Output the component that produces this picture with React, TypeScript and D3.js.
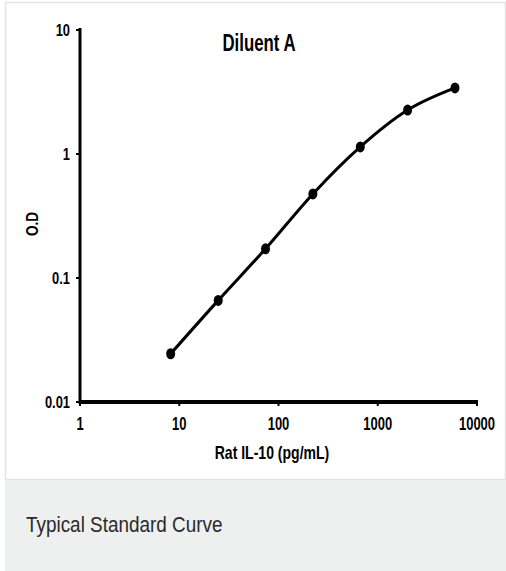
import React from "react";
import * as d3 from "d3";

const concentrations = [8.2, 24.7, 74, 222, 667, 2000, 6000];
const odValues = [0.0245, 0.066, 0.172, 0.476, 1.14, 2.26, 3.41];
const xTicks = [1, 10, 100, 1000, 10000];
const yTicks = [0.01, 0.1, 1, 10];
const yTickLabels = ["0.01", "0.1", "1", "10"];
const chartTitle = "Diluent A";
const xTitle = "Rat IL-10 (pg/mL)";
const yTitle = "O.D";
const caption = "Typical Standard Curve";

const W = 506;
const H = 571;
const font = "'Liberation Sans', Arial, sans-serif";

function SText(props: {
  x: number;
  y: number;
  sx: number;
  size: number;
  anchor?: string;
  weight?: string;
  fill?: string;
  rotate?: number;
  children: React.ReactNode;
}) {
  const { x, y, sx, size, anchor = "start", weight = "bold", fill = "#000", rotate = 0, children } = props;
  return (
    <text
      transform={`translate(${x},${y}) rotate(${rotate}) scale(${sx},1)`}
      textAnchor={anchor}
      fontFamily={font}
      fontWeight={weight}
      fontSize={size}
      fill={fill}
    >
      {children}
    </text>
  );
}

export default function App() {
  const x = d3.scaleLog().domain([1, 10000]).range([80, 477]);
  const y = d3.scaleLog().domain([0.01, 10]).range([402, 30]);
  const pts: [number, number][] = concentrations.map((c, i) => [x(c), y(odValues[i])]);
  const line = d3.line().curve(d3.curveMonotoneX)(pts) || "";

  return (
    <svg
      width={W}
      height={H}
      style={{ position: "absolute", left: 0, top: 0, display: "block" }}
    >
      <rect x={0} y={0} width={W} height={H} fill="#ffffff" />
      <rect x={5.5} y={2.5} width={500} height={477} fill="#ffffff" stroke="#e3e3e3" strokeWidth={1.5} />
      <rect x={5} y={480} width={501} height={91} fill="#eef0ef" />
      <SText x={26} y={532} sx={0.86} size={22} weight="normal" fill="#2a2a2a">
        {caption}
      </SText>

      {/* axes */}
      <line x1={80} y1={28} x2={80} y2={404} stroke="#000" strokeWidth={3} />
      <line x1={79} y1={402} x2={478} y2={402} stroke="#000" strokeWidth={4} />
      {yTicks.map((t, i) => (
        <g key={"y" + t}>
          <line x1={76} x2={80} y1={y(t)} y2={y(t)} stroke="#000" strokeWidth={2} />
          <SText x={70} y={y(t) + 6} sx={0.76} size={17} anchor="end">
            {yTickLabels[i]}
          </SText>
        </g>
      ))}
      {xTicks.map((t) => (
        <g key={"x" + t}>
          <line x1={x(t)} x2={x(t)} y1={402} y2={406} stroke="#000" strokeWidth={2} />
          <SText x={x(t)} y={430} sx={0.72} size={18} anchor="middle">
            {String(t)}
          </SText>
        </g>
      ))}

      <SText x={259} y={51} sx={0.7} size={24} anchor="middle">
        {chartTitle}
      </SText>
      <SText x={272} y={459} sx={0.78} size={18} anchor="middle">
        {xTitle}
      </SText>
      <SText x={38} y={224} sx={0.85} size={16} anchor="middle" rotate={-90}>
        {yTitle}
      </SText>

      <path d={line} fill="none" stroke="#000" strokeWidth={3} />
      {pts.map((p, i) => (
        <ellipse key={i} cx={p[0]} cy={p[1]} rx={4.5} ry={5.5} fill="#000" />
      ))}
    </svg>
  );
}
